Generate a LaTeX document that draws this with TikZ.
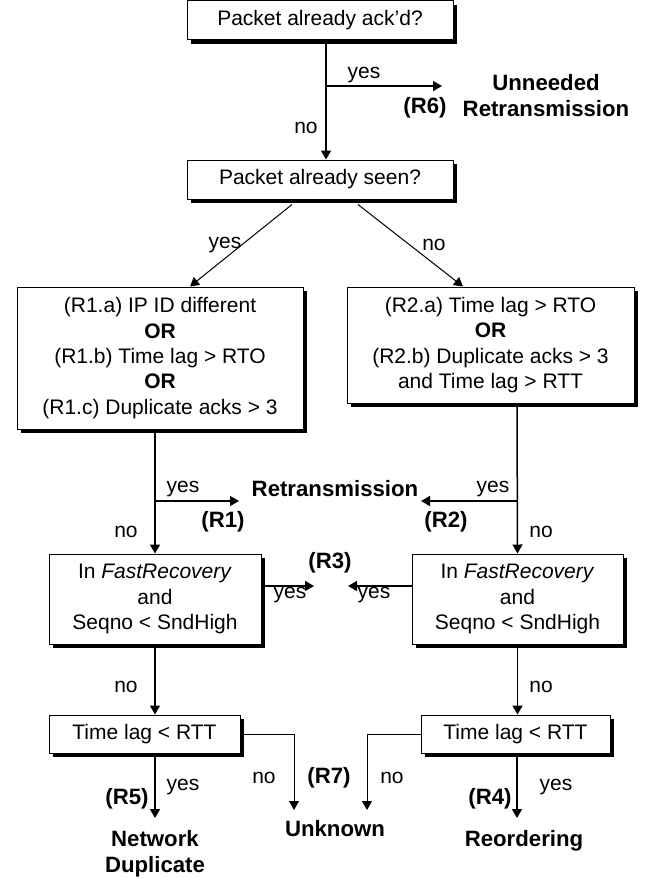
\documentclass[tikz,border=0pt]{standalone}
\usepackage{fontspec}
\setmainfont{Liberation Sans}
\usetikzlibrary{arrows.meta, shadows}

\begin{document}
\begin{tikzpicture}[
  x=0.5pt, y=-0.5pt,
  font=\fontsize{10.5pt}{12.7pt}\selectfont,
  testbox/.style={draw, fill=white, line width=0.5pt, align=center, inner sep=0pt, drop shadow={shadow xshift=2pt, shadow yshift=-2pt, fill=black, opacity=1}},
  lbl/.style={inner sep=0pt},
  verdict/.style={inner sep=0pt, font=\fontsize{11.1pt}{13pt}\selectfont\bfseries, align=center},
  flow/.style={line width=0.75pt, -{Triangle[width=5pt, length=4.5pt]}}
]
  \useasboundingbox (0,0) rectangle (653,879);

  % Tests
  \node[testbox, minimum width=133pt, minimum height=19.5pt] (acked) at (320,20) {Packet already ack'd?};
  \node[testbox, minimum width=133pt, minimum height=19.5pt] (seen) at (320,179.5) {Packet already seen?};
  \node[testbox, minimum width=143pt, minimum height=71pt] (rone) at (160,358) {
    (R1.a) IP ID different\\
    \textbf{OR}\\
    (R1.b) Time lag > RTO\\
    \textbf{OR}\\
    (R1.c) Duplicate acks > 3
  };
  \node[testbox, minimum width=143.5pt, minimum height=58pt] (rtwo) at (490.5,345) {
    (R2.a) Time lag > RTO\\
    \textbf{OR}\\
    (R2.b) Duplicate acks > 3\\
    and Time lag > RTT
  };
  \node[testbox, minimum width=106pt, minimum height=45pt] (fastl) at (155,599) {In \textit{FastRecovery}\\and\\Seqno < SndHigh};
  \node[testbox, minimum width=105.5pt, minimum height=45pt] (fastr) at (517.5,599) {In \textit{FastRecovery}\\and\\Seqno < SndHigh};
  \node[testbox, minimum width=95.5pt, minimum height=19pt] (lagl) at (144.5,734) {Time lag < RTT};
  \node[testbox, minimum width=94.5pt, minimum height=19pt] (lagr) at (515.5,734) {Time lag < RTT};

  % Verdicts
  \node[verdict] (unneeded) at (546,96) {Unneeded\\Retransmission};
  \node[verdict] (retrans) at (335,489) {Retransmission};
  \node[verdict] (netdup) at (155,854) {Network\\Duplicate};
  \node[verdict] (unknown) at (335,829) {Unknown};
  \node[verdict] (reorder) at (524,841) {Reordering};

  % Branch points and arrow ends
  \coordinate (trunk) at (326,86);
  \coordinate (r6tip) at (442,86);
  \coordinate (r1fork) at (155,501);
  \coordinate (r1tip) at (239,501);
  \coordinate (r2fork) at (517,501);
  \coordinate (r2tip) at (421,501);
  \coordinate (r3ltip) at (314,586);
  \coordinate (r3rtip) at (348,586);
  \coordinate (r7ltip) at (294,810);
  \coordinate (r7rtip) at (367,810);
  \coordinate (r5tip) at (155,818);
  \coordinate (r4tip) at (517,818);

  % Connectors
  \draw[flow] ([xshift=3pt]acked.south) -- ([xshift=3pt]seen.north);
  \draw[flow] (trunk) -- (r6tip);
  \draw[flow, line width=0.5pt] ([xshift=-14pt,yshift=-2.5pt]seen.south) -- ([xshift=15pt]rone.north);
  \draw[flow, line width=0.5pt] ([xshift=19pt,yshift=-2.5pt]seen.south) -- ([xshift=-13.75pt]rtwo.north);
  \draw[flow] ([xshift=-2.5pt]rone.south) -- (fastl.north);
  \draw[flow] (r1fork) -- (r1tip);
  \draw[flow] ([xshift=13.25pt]rtwo.south) -- (fastr.north);
  \draw[flow] (r2fork) -- (r2tip);
  \draw[flow] ([yshift=6.5pt]fastl.east) -- (r3ltip);
  \draw[flow] ([yshift=6.5pt]fastr.west) -- (r3rtip);
  \draw[flow] (fastl.south) -- (fastl.south |- lagl.north);
  \draw[flow] (fastr.south) -- (fastr.south |- lagr.north);
  \draw[flow] (r5tip |- lagl.south) -- (r5tip);
  \draw[flow, line width=0.5pt] (lagl.east) -| (r7ltip);
  \draw[flow, line width=0.5pt] (lagr.west) -| (r7rtip);
  \draw[flow] (r4tip |- lagr.south) -- (r4tip);

  % Labels
  \node[lbl] (yes6) at (364,75) {yes};
  \node[verdict] (tag6) at (425,108) {(R6)};
  \node[lbl] (no6) at (306,128) {no};
  \node[lbl] (yesseen) at (225,245) {yes};
  \node[lbl] (noseen) at (434,245) {no};
  \node[lbl] (yes1) at (183,489) {yes};
  \node[verdict] (tag1) at (223,522) {(R1)};
  \node[lbl] (no1) at (126,532) {no};
  \node[lbl] (yes2) at (493,489) {yes};
  \node[verdict] (tag2) at (446,522) {(R2)};
  \node[lbl] (no2) at (541,532) {no};
  \node[verdict] (tag3) at (330,563) {(R3)};
  \node[lbl] (yes3l) at (290,595) {yes};
  \node[lbl] (yes3r) at (374,595) {yes};
  \node[lbl] (nofastl) at (126,687) {no};
  \node[lbl] (nofastr) at (541,687) {no};
  \node[lbl] (no7l) at (264,778) {no};
  \node[verdict] (tag7) at (329,778) {(R7)};
  \node[lbl] (no7r) at (392,778) {no};
  \node[verdict] (tag5) at (127,799) {(R5)};
  \node[lbl] (yes5) at (183,787) {yes};
  \node[verdict] (tag4) at (490,799) {(R4)};
  \node[lbl] (yes4) at (556,787) {yes};
\end{tikzpicture}
\end{document}
